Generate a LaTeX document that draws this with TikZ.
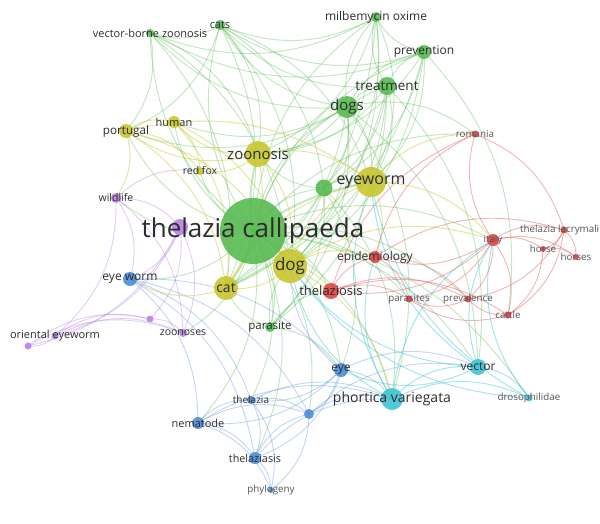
\documentclass[tikz,border=0pt]{standalone}
\usepackage{fontspec}
\setmainfont{Open Sans}
\pgfdeclarelayer{bg}
\pgfsetlayers{bg,main}
\definecolor{cgreen}{RGB}{88,186,82}
\definecolor{cyel}{RGB}{200,198,48}
\definecolor{cred}{RGB}{222,70,70}
\definecolor{cpur}{RGB}{185,130,228}
\definecolor{cblue}{RGB}{78,140,215}
\definecolor{ccyan}{RGB}{64,196,210}
\definecolor{ctext}{RGB}{45,45,45}
\definecolor{ctextl}{RGB}{85,85,85}
\tikzset{
  nd/.style={circle,fill=#1,draw=none,inner sep=0pt,opacity=0.9},
  lbl/.style={text=ctext,inner sep=0pt},
  lbls/.style={text=ctextl,inner sep=0pt,font=\fontsize{9.8}{11}\selectfont},
  eg/.style={draw=cgreen,opacity=0.35,line width=1pt},
  ey/.style={draw=cyel,opacity=0.45,line width=1pt},
  er/.style={draw=cred,opacity=0.4,line width=0.9pt},
  ep/.style={draw=cpur,opacity=0.4,line width=0.9pt},
  eb/.style={draw=cblue,opacity=0.35,line width=0.9pt},
  ec/.style={draw=ccyan,opacity=0.45,line width=1pt},
}
\begin{document}
\begin{tikzpicture}[x=1pt,y=-1pt]
\useasboundingbox (0,0) rectangle (600,523);
% nodes
\node[nd=cgreen,minimum size=66pt] (tc) at (253,231) {};
\node[nd=cyel,minimum size=34pt] (dog) at (290,266) {};
\node[nd=cyel,minimum size=24pt] (cat) at (226,288) {};
\node[nd=cyel,minimum size=26pt] (zoon) at (258,154) {};
\node[nd=cyel,minimum size=30pt] (eyew) at (371,182) {};
\node[nd=cgreen,minimum size=17pt] (g1) at (324,188) {};
\node[nd=cgreen,minimum size=22pt] (dogs) at (347,107) {};
\node[nd=cgreen,minimum size=18pt] (treat) at (387,86) {};
\node[nd=cgreen,minimum size=14pt] (prevn) at (424,52) {};
\node[nd=cgreen,minimum size=10pt] (milb) at (376,17) {};
\node[nd=cgreen,minimum size=10pt] (cats) at (220,25) {};
\node[nd=cgreen,minimum size=8pt] (vbz) at (150,33) {};
\node[nd=cyel,minimum size=12pt] (human) at (174,122) {};
\node[nd=cyel,minimum size=14pt] (portugal) at (126,131) {};
\node[nd=cyel,minimum size=8pt] (redfox) at (200,171) {};
\node[nd=cpur,minimum size=10pt] (wildlife) at (116,198) {};
\node[nd=cpur,minimum size=16pt] (p1) at (180,227) {};
\node[nd=cblue,minimum size=14pt] (eyew2) at (130,279) {};
\node[nd=cpur,minimum size=7pt] (p2) at (150,319) {};
\node[nd=cpur,minimum size=8pt] (zoonoses) at (183,333) {};
\node[nd=cpur,minimum size=7pt] (oriental) at (55,336) {};
\node[nd=cpur,minimum size=7pt] (p3) at (28,346) {};
\node[nd=cgreen,minimum size=10pt] (parasite) at (270,327) {};
\node[nd=cred,minimum size=16pt] (thsis) at (331,291) {};
\node[nd=cred,minimum size=12pt] (epid) at (375,257) {};
\node[nd=cred,minimum size=7pt] (parasites) at (409,299) {};
\node[nd=cred,minimum size=7pt] (prevl) at (468,299) {};
\node[nd=cred,minimum size=7pt] (cattle) at (508,315) {};
\node[nd=cred,minimum size=12pt] (italy) at (493,240) {};
\node[nd=cred,minimum size=7pt] (romania) at (475,134) {};
\node[nd=cred,minimum size=7pt] (lacr) at (564,230) {};
\node[nd=cred,minimum size=6pt] (horse) at (543,249) {};
\node[nd=cred,minimum size=6pt] (horses) at (576,257) {};
\node[nd=cblue,minimum size=14pt] (eye) at (341,370) {};
\node[nd=ccyan,minimum size=22pt] (phort) at (392,399) {};
\node[nd=ccyan,minimum size=16pt] (vector) at (478,367) {};
\node[nd=ccyan,minimum size=7pt] (droso) at (529,398) {};
\node[nd=cblue,minimum size=10pt] (b1) at (309,414) {};
\node[nd=cblue,minimum size=8pt] (thelazia) at (251,400) {};
\node[nd=cblue,minimum size=12pt] (nema) at (198,423) {};
\node[nd=cblue,minimum size=12pt] (thasis) at (255,458) {};
\node[nd=cblue,minimum size=6pt] (phylo) at (271,490) {};
% edges
\begin{pgfonlayer}{bg}
\foreach \a/\b in {tc/cats,tc/vbz,tc/milb,tc/prevn,tc/treat,tc/dogs,tc/g1,tc/parasite,tc/human,tc/portugal,tc/redfox,tc/wildlife,tc/eyew2,tc/thelazia,tc/nema,tc/eye,tc/phort,tc/vector,tc/italy,tc/epid,tc/thsis,tc/thasis,tc/romania,tc/zoonoses,tc/droso,tc/b1,tc/parasites,tc/prevl,
 dogs/treat,dogs/prevn,dogs/milb,dogs/cats,dogs/vbz,dogs/eyew,dogs/dog,dogs/cat,dogs/zoon,dogs/g1,dogs/parasite,dogs/vector,dogs/phort,dogs/romania,dogs/human,dogs/portugal,
 treat/prevn,treat/milb,treat/cats,treat/eyew,treat/dog,treat/cat,treat/g1,treat/vector,treat/parasite,treat/zoon,
 prevn/milb,prevn/cats,prevn/vbz,prevn/dog,prevn/zoon,prevn/g1,prevn/cattle,prevn/eyew,prevn/cat,
 milb/cats,milb/dog,milb/zoon,milb/cat,milb/eyew,milb/vbz,milb/g1,
 cats/vbz,cats/zoon,cats/dog,cats/cat,cats/portugal,cats/g1,cats/eyew,
 vbz/cat,vbz/dog,vbz/zoon,vbz/portugal,
 g1/dog,g1/eyew,g1/cat,g1/parasite,g1/phort,g1/eye,g1/zoon,
 parasite/dog,parasite/cat,parasite/eye,parasite/thsis}
  \draw[eg] (\a.center) to[bend left=25] (\b.center);
\foreach \a/\b in {tc/dog,tc/cat,tc/zoon,tc/eyew}
  \draw[eg,line width=2pt] (\a.center) to[bend left=12] (\b.center);
\foreach \a/\b in {zoon/human,zoon/portugal,zoon/redfox,zoon/dog,zoon/cat,zoon/eyew,
 portugal/human,portugal/redfox,portugal/cat,portugal/dog,portugal/wildlife,portugal/eyew,
 human/redfox,human/dog,human/cat,
 dog/cat,dog/eyew,dog/epid,dog/thsis,dog/italy,dog/phort,
 cat/eyew,cat/eyew2,eyew/italy,eyew/romania,eyew/epid}
  \draw[ey] (\a.center) to[bend left=25] (\b.center);
\foreach \a/\b in {wildlife/p1,wildlife/eyew2,wildlife/oriental,wildlife/zoonoses,wildlife/redfox,
 p1/oriental,p1/p2,p1/zoonoses,p1/p3,p1/eyew2,
 oriental/p2,oriental/p3,oriental/zoonoses,p3/zoonoses,p3/p2,p2/zoonoses}
  \draw[ep] (\a.center) to[bend left=25] (\b.center);
\foreach \a/\b in {eyew2/nema,eyew2/thelazia,eyew2/thasis,eyew2/eye,eyew2/b1,
 eye/phort,eye/nema,eye/thelazia,eye/b1,eye/thasis,eye/vector,eye/dog,
 nema/thelazia,nema/thasis,nema/b1,nema/phylo,nema/phort,
 thelazia/thasis,thelazia/b1,thelazia/phylo,thelazia/phort,
 thasis/phylo,thasis/b1,thasis/phort,b1/phort,b1/phylo,b1/vector}
  \draw[eb] (\a.center) to[bend left=25] (\b.center);
\foreach \a/\b in {italy/romania,italy/lacr,italy/horse,italy/horses,italy/cattle,italy/prevl,italy/parasites,italy/epid,italy/thsis,
 thsis/epid,thsis/parasites,thsis/prevl,thsis/cattle,thsis/romania,
 epid/parasites,epid/prevl,epid/romania,epid/lacr,
 lacr/horse,lacr/horses,lacr/cattle,lacr/prevl,
 horse/horses,horse/cattle,cattle/prevl,cattle/parasites,prevl/parasites,romania/lacr}
  \draw[er] (\a.center) to[bend left=25] (\b.center);
\foreach \a/\b in {phort/vector,phort/droso,phort/eyew,phort/dog,phort/italy,phort/epid,
 vector/droso,vector/dog,vector/eyew,vector/eye,vector/italy,
 droso/eyew,droso/italy,droso/dog}
  \draw[ec] (\a.center) to[bend left=25] (\b.center);
\end{pgfonlayer}
% labels
\node[lbl,font=\fontsize{26}{29}\selectfont] (ltc) at (tc) {thelazia callipaeda};
\node[lbl,font=\fontsize{17}{19}\selectfont] (ldog) at (dog) {dog};
\node[lbl,font=\fontsize{14}{16}\selectfont] (lcat) at (cat) {cat};
\node[lbl,font=\fontsize{15}{17}\selectfont] (lzoon) at (zoon) {zoonosis};
\node[lbl,font=\fontsize{16}{18}\selectfont] (leyew) at (eyew) {eyeworm};
\node[lbl,font=\fontsize{15}{17}\selectfont] (ldogs) at (dogs) {dogs};
\node[lbl,font=\fontsize{13.5}{15}\selectfont] (ltreat) at (treat) {treatment};
\node[lbl,font=\fontsize{12}{14}\selectfont] (lprevn) at (prevn) {prevention};
\node[lbl,font=\fontsize{12}{14}\selectfont] (lmilb) at (milb) {milbemycin oxime};
\node[lbl,font=\fontsize{11}{13}\selectfont] (lcats) at (cats) {cats};
\node[lbl,font=\fontsize{11}{13}\selectfont] (lvbz) at (vbz) {vector-borne zoonosis};
\node[lbl,font=\fontsize{11}{13}\selectfont] (lhuman) at (human) {human};
\node[lbl,font=\fontsize{11.7}{13}\selectfont] (lport) at (portugal) {portugal};
\node[lbl,font=\fontsize{10.5}{12}\selectfont] (lredfox) at (redfox) {red fox};
\node[lbl,font=\fontsize{10.5}{12}\selectfont] (lwild) at (wildlife) {wildlife};
\node[lbl,font=\fontsize{12}{14}\selectfont] (leyew2) at (eyew2) {eye worm};
\node[lbl,font=\fontsize{10.5}{12}\selectfont] (lzoonoses) at (zoonoses) {zoonoses};
\node[lbl,font=\fontsize{11}{13}\selectfont] (lorient) at (oriental) {oriental eyeworm};
\node[lbl,font=\fontsize{11.5}{13}\selectfont] (lparasite) at (parasite) {parasite};
\node[lbl,font=\fontsize{13}{15}\selectfont] (lthsis) at (thsis) {thelaziosis};
\node[lbl,font=\fontsize{12}{14}\selectfont] (lepid) at (epid) {epidemiology};
\node[lbls] (lparasites) at (parasites) {parasites};
\node[lbls] (lprevl) at (prevl) {prevalence};
\node[lbls] (lcattle) at (cattle) {cattle};
\node[lbls] (litaly) at (italy) {italy};
\node[lbls] (lromania) at (romania) {romania};
\node[lbls,anchor=west] (llacr) at (520,230) {thelazia lacrymali};
\node[lbls] (lhorse) at (horse) {horse};
\node[lbls] (lhorses) at (horses) {horses};
\node[lbl,font=\fontsize{12}{14}\selectfont] (leye) at (eye) {eye};
\node[lbl,font=\fontsize{14}{16}\selectfont] (lphort) at (phort) {phortica variegata};
\node[lbl,font=\fontsize{12}{14}\selectfont] (lvector) at (vector) {vector};
\node[lbls] (ldroso) at (droso) {drosophilidae};
\node[lbl,font=\fontsize{10}{12}\selectfont] (lthelazia) at (thelazia) {thelazia};
\node[lbl,font=\fontsize{11}{13}\selectfont] (lnema) at (nema) {nematode};
\node[lbl,font=\fontsize{10.8}{12}\selectfont] (lthasis) at (thasis) {thelaziasis};
\node[lbls] (lphylo) at (phylo) {phylogeny};
\end{tikzpicture}
\end{document}
